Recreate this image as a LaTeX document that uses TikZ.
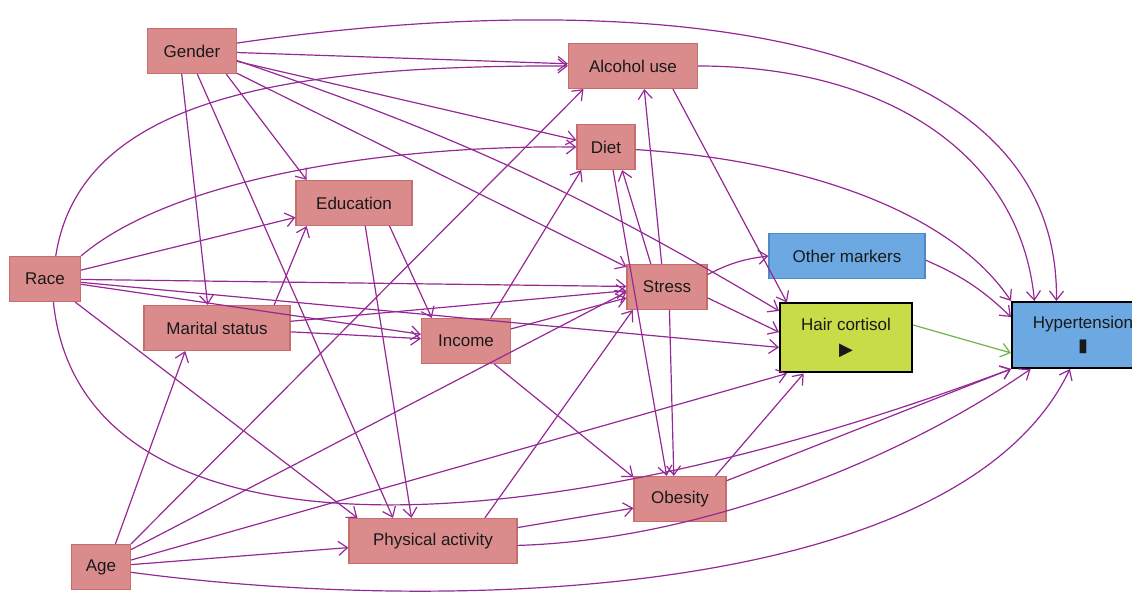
\documentclass[tikz,border=0pt]{standalone}
\usepackage{fontspec}
\setmainfont{Liberation Sans}
\newfontfamily\symfont{DejaVu Sans}
\usetikzlibrary{arrows.meta}
\definecolor{boxpink}{RGB}{218,140,140}
\definecolor{pinkline}{RGB}{200,108,108}
\definecolor{boxblue}{RGB}{108,168,226}
\definecolor{blueline}{RGB}{78,138,200}
\definecolor{boxlime}{RGB}{200,220,72}
\definecolor{edgepurple}{RGB}{150,40,150}
\definecolor{edgegreen}{RGB}{110,180,70}
\definecolor{labeltext}{RGB}{25,25,25}

\begin{document}
\begin{tikzpicture}[x=0.5pt, y=-0.5pt,
    box/.style={draw=pinkline, fill=boxpink, line width=0.6pt, minimum height=22.5pt,
      inner sep=0pt, font=\fontsize{8.5}{10}\selectfont, text=labeltext},
    marker/.style={box, draw=blueline, fill=boxblue},
    main/.style={box, draw=black, line width=1pt, align=center},
    arr/.style={draw=edgepurple, line width=0.6pt, -{Straight Barb[length=4.5pt,width=7pt]}}]
  \useasboundingbox (0,0) rectangle (1132,592);

  \node (gender) [box, minimum width=44.5pt] at (192,51) {Gender};
  \node (alcohol) [box, minimum width=64.5pt] at (633,66) {Alcohol use};
  \node (diet) [box, minimum width=29pt] at (606,147) {Diet};
  \node (education) [box, minimum width=58pt] at (354,203) {Education};
  \node (race) [box, minimum width=35.5pt] at (45,279) {Race};
  \node (other) [marker, minimum width=78pt] at (847,256) {Other markers};
  \node (stress) [box, minimum width=40pt] at (667,287) {Stress};
  \node (marital) [box, minimum width=73pt] at (217,328) {Marital status};
  \node (income) [box, minimum width=44.5pt] at (466,341) {Income};
  \node (cortisol) [main, fill=boxlime, minimum width=66pt, minimum height=34.5pt] at (846,338)
    {Hair cortisol\\[2.5pt]{\symfont\fontsize{9}{9}\selectfont ▶}};
  \node (hyper) [main, fill=boxblue, minimum width=71pt, minimum height=33pt] at (1083,335)
    {Hypertension\\[1.5pt]{\symfont\fontsize{9}{9}\selectfont ▮}};
  \node (obesity) [box, minimum width=46pt] at (680,499) {Obesity};
  \node (activity) [box, minimum width=84pt] at (433,541) {Physical activity};
  \node (age) [box, minimum width=29.5pt] at (101,567) {Age};

  \draw [arr] (gender.10) .. controls (600,-10) and (1060,10) .. (hyper.128);
  \draw [arr] (gender) to (alcohol);
  \draw [arr] (gender) to (diet);
  \draw [arr] (gender) to (stress);
  \draw [arr] (gender.-12) to [bend left=6] (cortisol.158);
  \draw [arr] (gender.-34) to (education.154);
  \draw [arr] (gender.-114) to (marital.112);
  \draw [arr] (gender.-77) to (activity.150);
  \draw [arr] (race.65) .. controls (80,100) and (280,65) .. (alcohol.west);
  \draw [arr] (race.north east) .. controls (170,180) and (380,145) .. (diet.west);
  \draw [arr] (race) to (education);
  \draw [arr] (race) to (stress);
  \draw [arr] (race) to (income);
  \draw [arr] (race) to (cortisol.188);
  \draw [arr] (race) to (activity.163);
  \draw [arr] (race.-70) .. controls (80,560) and (500,560) .. (hyper.south west);
  \draw [arr] (marital.22) to (education.-154);
  \draw [arr] (marital) to (income);
  \draw [arr] (marital) to (stress);
  \draw [arr] (education.-33) to (income.146);
  \draw [arr] (education.-64) to (activity.133);
  \draw [arr] (age.58) to (marital.-144);
  \draw [arr] (age.north east) to (alcohol.-155);
  \draw [arr] (age.30) to (stress.-173);
  \draw [arr] (age) to (activity);
  \draw [arr] (age.13) to (cortisol.-149);
  \draw [arr] (age.-10) .. controls (450,615) and (960,600) .. (hyper.-111);
  \draw [arr] (income.43) to (diet.-137);
  \draw [arr] (income) to (stress);
  \draw [arr] (income) to (obesity.155);
  \draw [arr] (stress.103) to (alcohol.-64);
  \draw [arr] (stress.125) to (diet.-55);
  \draw [arr] (stress.17) to [bend left=10] (other.west);
  \draw [arr] (stress.-15) to (cortisol.175);
  \draw [arr] (stress.-84) to (obesity.105);
  \draw [arr] (diet.-73) to (obesity.120);
  \draw [arr] (diet.-5) .. controls (800,160) and (950,210) .. (hyper.north west);
  \draw [arr] (alcohol.-30) to (cortisol.149);
  \draw [arr] (alcohol.east) .. controls (880,66) and (1020,150) .. (hyper.145);
  \draw [arr] (other.-3) to [bend left=10] (hyper.166);
  \draw [arr, draw=edgegreen] (cortisol.11) to (hyper.-166);
  \draw [arr] (obesity.33) to (cortisol.-140);
  \draw [arr] (obesity) to (hyper.south west);
  \draw [arr] (activity.24) to (stress.-146);
  \draw [arr] (activity.9) to (obesity.-169);
  \draw [arr] (activity.-3) .. controls (700,540) and (900,460) .. (hyper.-147);
\end{tikzpicture}
\end{document}
